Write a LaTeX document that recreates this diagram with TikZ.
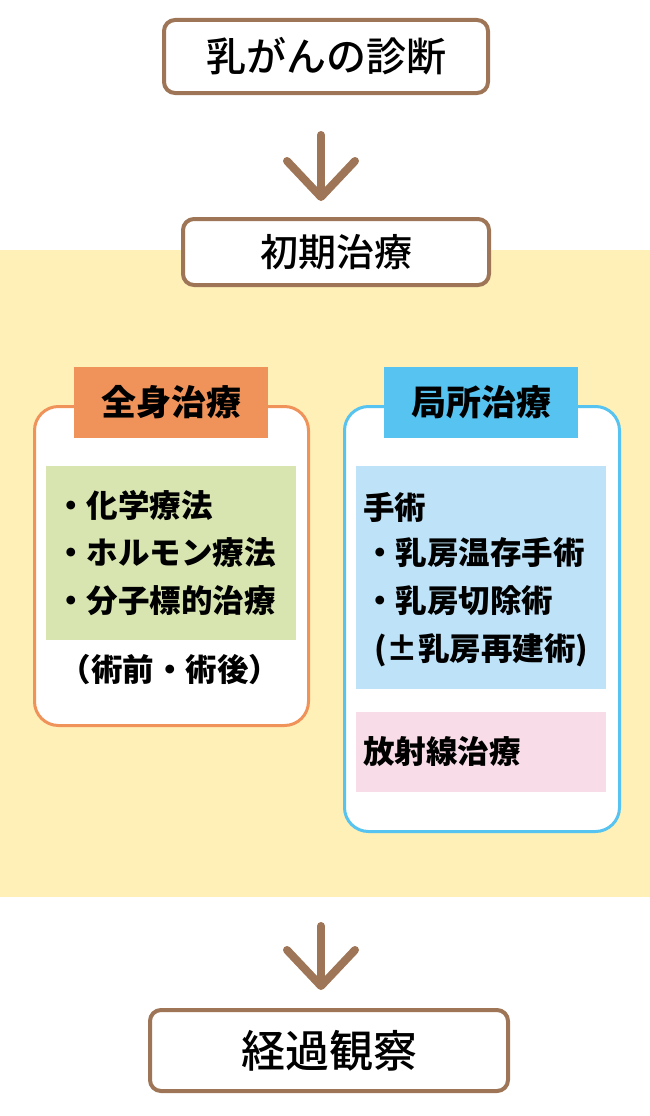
\documentclass[tikz,border=0pt]{standalone}
\usepackage{fontspec}
\setmainfont{Noto Sans CJK JP}
\newfontfamily\stepfont{Noto Sans CJK JP}[UprightFont={* Medium}]
\usetikzlibrary{arrows.meta, positioning}

\definecolor{brownline}{HTML}{9E7556}
\definecolor{bandyellow}{HTML}{FEF0B6}
\definecolor{sysorange}{HTML}{F0935A}
\definecolor{locblue}{HTML}{56C3F0}
\definecolor{drugsgreen}{HTML}{D8E5B0}
\definecolor{surgblue}{HTML}{BEE3F8}
\definecolor{radpink}{HTML}{F8DCE7}

\begin{document}
\begin{tikzpicture}[
  x=1pt, y=-1pt,
  stepbox/.style={draw=brownline, line width=4pt, rounded corners=11pt, fill=white, inner sep=0pt},
  panel/.style={line width=3pt, rounded corners=24pt, fill=white, inner sep=0pt},
  header/.style={minimum width=194pt, minimum height=71pt, inner sep=0pt, font=\fontsize{35}{38}\selectfont\bfseries},
  block/.style={inner sep=0pt},
  item/.style={anchor=west, inner sep=0pt, font=\fontsize{31.5}{33}\selectfont\bfseries},
  flow/.style={draw=brownline, line width=8pt, line cap=round, -{Straight Barb[length=36pt, width=68pt, line join=round, line cap=round]}},
]
  \useasboundingbox (0,0) rectangle (650,1116);

  % Initial treatment band
  \fill[bandyellow] (0,250) rectangle (650,897);

  % Diagnosis
  \node[stepbox, minimum width=324pt, minimum height=73pt, font=\stepfont\fontsize{40}{42}\selectfont] (diag) at (326,56.5) {乳がんの診断};

  % Initial treatment
  \node[stepbox, minimum width=306pt, minimum height=66pt, font=\stepfont\fontsize{38}{40}\selectfont] (init) at (336,252) {初期治療};

  % Systemic treatment
  \node[panel, draw=sysorange, minimum width=274pt, minimum height=319pt] (syspanel) at (171.5,566) {};
  \node[header, fill=sysorange] (syshead) at (171,402.5) {全身治療};
  \node[block, fill=drugsgreen, minimum width=250pt, minimum height=174pt] (drugs) at (171,553) {};
  \foreach \txt [count=\i] in {・化学療法, ・ホルモン療法, ・分子標的治療} {
    \node[item] (drug\i) at (55, 457+\i*48) {\txt};
  }
  \node[item, anchor=center] (timing) at (170,670) {（術前・術後）};

  % Local treatment
  \node[panel, draw=locblue, minimum width=275pt, minimum height=425pt] (locpanel) at (482,619) {};
  \node[header, fill=locblue] (lochead) at (481,402.5) {局所治療};
  \node[block, fill=surgblue, minimum width=250pt, minimum height=223pt] (surg) at (481,577.5) {};
  \node[block, fill=radpink, minimum width=250pt, minimum height=80pt] (rad) at (481,752) {};
  \node[item] (surgtitle) at (363,507) {手術};
  \node[item] (surg1) at (364,553) {・乳房温存手術};
  \node[item] (surg2) at (364,601) {・乳房切除術};
  \node[item] (surg3) at (374,650) {(±乳房再建術)};
  \node[item] (radtitle) at (363,752) {放射線治療};

  % Follow-up
  \node[stepbox, minimum width=358pt, minimum height=81pt, font=\stepfont\fontsize{44}{46}\selectfont] (follow) at (329,1050.5) {経過観察};

  % Arrows
  \coordinate (a1s) at (321,135);
  \coordinate (a1e) at (321,201);
  \coordinate (a2s) at (321,926);
  \coordinate (a2e) at (321,990);
  \draw[flow] (a1s) -- (a1e);
  \draw[flow] (a2s) -- (a2e);
\end{tikzpicture}
\end{document}
